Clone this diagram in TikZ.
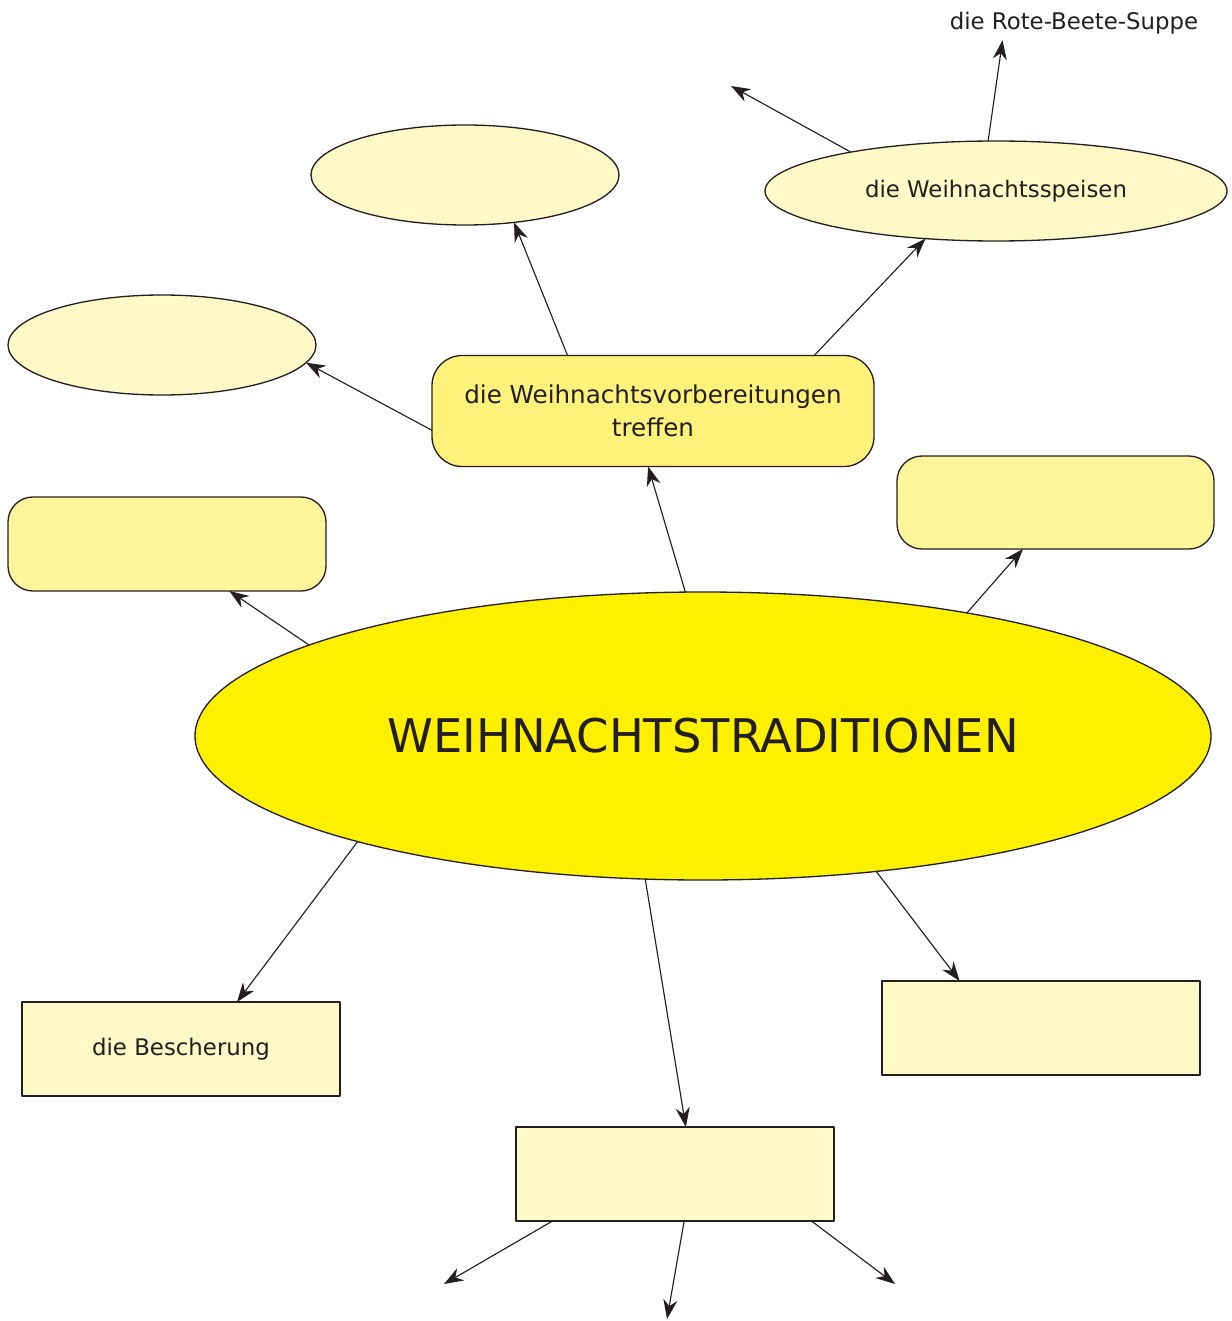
\documentclass[tikz,border=0pt]{standalone}
\usepackage{fontspec}
\setmainfont{DejaVu Sans}
\usetikzlibrary{arrows.meta,shapes.geometric}

\definecolor{gelb}{HTML}{FFF000}
\definecolor{mittelgelb}{HTML}{FFF27A}
\definecolor{hellgelb}{HTML}{FFF59A}
\definecolor{blassgelb}{HTML}{FFF9C8}
\definecolor{linie}{HTML}{231F20}

\tikzset{
  oval/.style={ellipse,draw=linie,fill=blassgelb,line width=0.75pt,inner sep=0pt,outer sep=0pt},
  kasten/.style={rectangle,draw=linie,fill=blassgelb,line width=0.75pt,minimum width=6.36cm,minimum height=1.88cm,inner sep=0pt,outer sep=0pt},
  rkasten/.style={kasten,rounded corners=0.5cm,fill=hellgelb},
  pfeil/.style={-{Stealth[length=11pt,width=8pt]},draw=linie,line width=0.65pt},
  schrift/.style={font=\fontsize{13}{18}\selectfont,text=linie}
}

\begin{document}
\begin{tikzpicture}[line cap=round,line join=round,x=1.0cm,y=1.0cm]
        \useasboundingbox (0,0) rectangle (24.62,-26.42);
        \node[oval,fill=gelb,minimum width=20.32cm,minimum height=5.76cm,font=\fontsize{26.4}{30}\selectfont,text=linie] (tradition) at (14.06,-14.72) {WEIHNACHTSTRADITIONEN};
        \node[rkasten,fill=mittelgelb,minimum width=8.84cm,minimum height=2.22cm,rounded corners=0.6cm,align=center,schrift,font=\fontsize{14}{18.5}\selectfont] (vorbereitung) at (13.06,-8.22) {die Weihnachtsvorbereitungen\\treffen};
        \node[oval,minimum width=6.16cm,minimum height=2cm] (ovaloben) at (9.30,-3.50) {};
        \node[oval,minimum width=6.16cm,minimum height=2cm] (ovallinks) at (3.24,-6.90) {};
        \node[oval,minimum width=9.24cm,minimum height=2cm,schrift] (speisen) at (19.92,-3.82) {die Weihnachtsspeisen};
        \node[schrift] (suppe) at (21.48,-0.46) {die Rote-Beete-Suppe};
        \node[rkasten] (rlinks) at (3.34,-10.88) {};
        \node[rkasten,minimum width=6.34cm,minimum height=1.86cm] (rrechts) at (21.11,-10.05) {};
        \node[kasten,schrift] (bescherung) at (3.62,-20.98) {die Bescherung};
        \node[kasten] (krechts) at (20.82,-20.56) {};
        \node[kasten] (kunten) at (13.50,-23.48) {};
        \coordinate (frei1) at (14.62,-1.72);
        \coordinate (frei2) at (8.88,-25.68);
        \coordinate (frei3) at (13.34,-26.38);
        \coordinate (frei4) at (17.90,-25.68);
        % vom Hauptthema
        \draw [pfeil] (tradition.97) -- (vorbereitung.265);
        \draw [pfeil] (tradition.25) -- (rrechts.235);
        \draw [pfeil] (tradition.167) -- (rlinks.323);
        \draw [pfeil] (tradition.197.3) -- (bescherung.40);
        \draw [pfeil] (tradition.248) -- (kunten.77);
        \draw [pfeil] (tradition.322) -- (krechts.150);
        % von den Vorbereitungen
        \draw [pfeil] (vorbereitung.147.5) -- (ovaloben.316.7);
        \draw [pfeil] (vorbereitung.185.6) -- (ovallinks.353.5);
        \draw [pfeil] (vorbereitung.19.7) -- (speisen.214.8);
        % von den Speisen
        \draw [pfeil] (speisen.99) -- ([xshift=1.18cm]suppe.south west);
        \draw [pfeil] (speisen.165) -- (frei1);
        % vom unteren Kasten
        \draw [pfeil] (kunten.201) -- (frei2);
        \draw [pfeil] (kunten.281) -- (frei3);
        \draw [pfeil] (kunten.341) -- (frei4);
    \end{tikzpicture}
\end{document}
